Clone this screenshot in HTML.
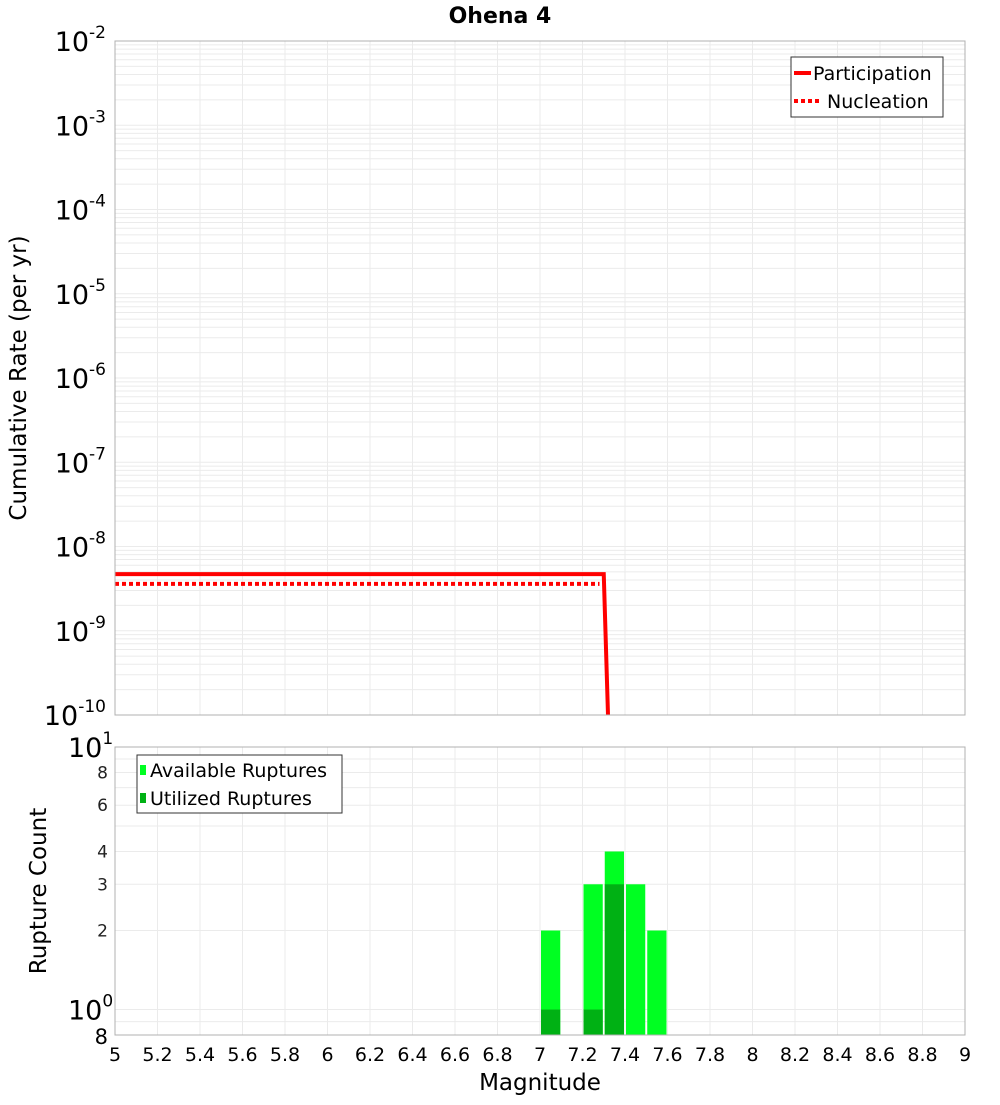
<!DOCTYPE html>
<html><head><meta charset="utf-8"><style>
body{margin:0;background:#fff;font-family:"Liberation Sans","DejaVu Sans",sans-serif}
</style></head><body>
<svg id="c" width="1000" height="1100" xmlns="http://www.w3.org/2000/svg" font-family="DejaVu Sans, Liberation Sans, sans-serif"></svg>
<script>
const partMags=[5.0,7.3,7.32];
const partRates=[4.7e-9,4.7e-9,1e-10];
const nuclMags=[5.0,7.28];
const nuclRates=[3.6e-9,3.6e-9];
const binCenters=[7.05,7.25,7.35,7.45,7.55];
const availCounts=[2,3,4,3,2];
const utilCounts=[1,1,3,0,0];
const xTicks=[5,5.2,5.4,5.6,5.8,6,6.2,6.4,6.6,6.8,7,7.2,7.4,7.6,7.8,8,8.2,8.4,8.6,8.8,9];
const topExps=[-2,-3,-4,-5,-6,-7,-8,-9,-10];
const botTicks=[8,6,4,3,2];

const NS="http://www.w3.org/2000/svg",svg=document.getElementById('c');
function el(t,a,p){const e=document.createElementNS(NS,t);for(const k in a)e.setAttribute(k,a[k]);(p||svg).appendChild(e);return e;}
const X0=115,X1=965;
const xs=m=>X0+(m-5)/4*(X1-X0);
const T0=41,T1=715;
const yt=v=>T0+(-2-Math.log10(v))/8*(T1-T0);
const B0=747,B1=1035;
const yb=v=>B0+(1-Math.log10(v))/(1-Math.log10(0.8))*(B1-B0);

const g=el('g',{});
xTicks.forEach(t=>{el('line',{x1:xs(t),x2:xs(t),y1:T0,y2:T1,stroke:'#ebebeb'},g);el('line',{x1:xs(t),x2:xs(t),y1:B0,y2:B1,stroke:'#ebebeb'},g);});
for(let e=-10;e<-2;e++)for(let k=1;k<10;k++){const y=yt(k*Math.pow(10,e));el('line',{x1:X0,x2:X1,y1:y,y2:y,stroke:'#ebebeb'},g);}
[0.8,0.9,1,2,3,4,5,6,7,8,9].forEach(v=>{const y=yb(v);el('line',{x1:X0,x2:X1,y1:y,y2:y,stroke:'#ebebeb'},g);});

const pp=partMags.map((m,i)=>xs(m)+','+yt(partRates[i])).join(' ');
const pl=el('polyline',{points:pp,fill:'none',stroke:'#ff0000','stroke-width':4});

const np=nuclMags.map((m,i)=>xs(m)+','+yt(nuclRates[i])).join(' ');
const nl=el('polyline',{points:np,fill:'none',stroke:'#ff0000','stroke-width':4,'stroke-dasharray':'4,3'});


binCenters.forEach((c,i)=>{
 const x=xs(c-0.05)+1,w=xs(c+0.05)-xs(c-0.05)-2;
 const r=el('rect',{x:x,y:yb(availCounts[i]),width:w,height:B1-yb(availCounts[i]),fill:'#00ff22'});
 
 if(utilCounts[i]>0){const u=el('rect',{x:x,y:yb(utilCounts[i]),width:w,height:B1-yb(utilCounts[i]),fill:'#00b114'});
 }
});

el('rect',{x:X0,y:T0,width:X1-X0,height:T1-T0,fill:'none',stroke:'#b0b0b0'});
el('rect',{x:X0,y:B0,width:X1-X0,height:B1-B0,fill:'none',stroke:'#b0b0b0'});

topExps.forEach(e=>{const y=yt(Math.pow(10,e));
 const t=el('text',{x:106,y:y+10,'text-anchor':'end','font-size':27,fill:'#000'});
 
 t.innerHTML='10<tspan font-size="17" dy="-13">'+e+'</tspan>';});
const t10=el('text',{x:68,y:yb(10)+10,'font-size':27});t10.innerHTML='10<tspan font-size="17" dy="-13">1</tspan>';
const t1=el('text',{x:68,y:yb(1)+10,'font-size':27});t1.innerHTML='10<tspan font-size="17" dy="-13">0</tspan>';
botTicks.forEach(v=>{const t=el('text',{x:108,y:yb(v)+6,'text-anchor':'end','font-size':17,fill:'#222'});t.textContent=v;
 });
const t08=el('text',{x:108,y:B1+9,'text-anchor':'end','font-size':21});t08.textContent='8';
xTicks.forEach(t=>{const s=el('text',{x:xs(t),y:1061,'text-anchor':'middle','font-size':19});s.textContent=String(t);
 });

const tt=el('text',{x:500,y:23,'text-anchor':'middle','font-size':22,'font-weight':'bold'});tt.textContent='Ohena 4';

const xa=el('text',{x:540,y:1090,'text-anchor':'middle','font-size':23});xa.textContent='Magnitude';

const ya=el('text',{x:0,y:0,'text-anchor':'middle','font-size':23,transform:'translate(26,378) rotate(-90)'});ya.textContent='Cumulative Rate (per yr)';

const yb2=el('text',{x:0,y:0,'text-anchor':'middle','font-size':23,transform:'translate(46,891) rotate(-90)'});yb2.textContent='Rupture Count';


const lg=el('g',{});
el('rect',{x:791,y:57,width:152,height:60,fill:'#fff',stroke:'#333'},lg);
el('line',{x1:794,x2:811,y1:73,y2:73,stroke:'#f00','stroke-width':4},lg);
el('text',{x:813,y:80,'font-size':19},lg).textContent='Participation';
el('line',{x1:794,x2:822,y1:101,y2:101,stroke:'#f00','stroke-width':4,'stroke-dasharray':'4,3'},lg);
el('text',{x:827,y:108,'font-size':19},lg).textContent='Nucleation';
const lb=el('g',{});
el('rect',{x:137,y:755,width:205,height:58,fill:'#fff',stroke:'#333'},lb);
el('rect',{x:140,y:765,width:6,height:10,fill:'#00ff22'},lb);
el('text',{x:150,y:777,'font-size':19},lb).textContent='Available Ruptures';
el('rect',{x:140,y:793,width:6,height:10,fill:'#00b114'},lb);
el('text',{x:150,y:805,'font-size':19},lb).textContent='Utilized Ruptures';
</script>
</body></html>
